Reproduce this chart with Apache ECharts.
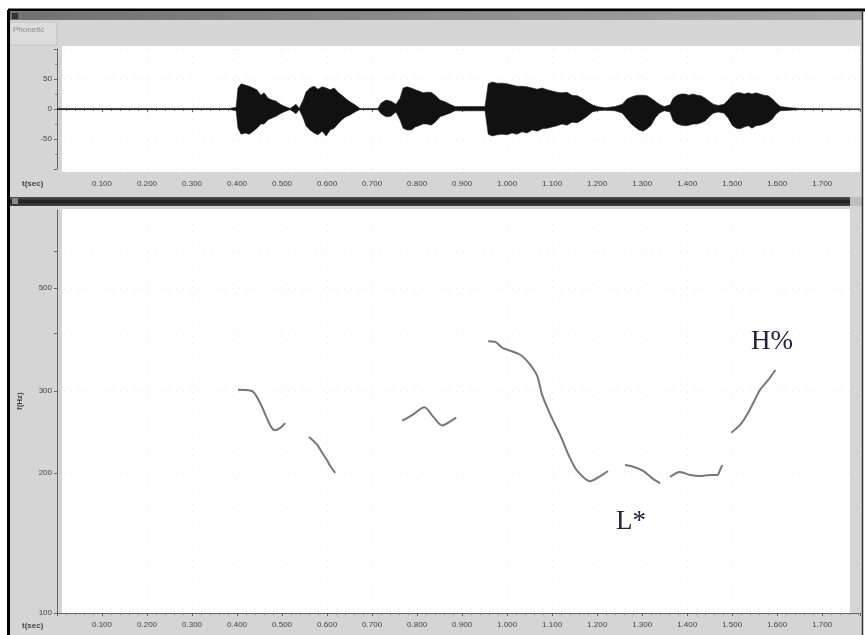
<!DOCTYPE html>
<html>
<head>
<meta charset="utf-8">
<title>F0 contour</title>
<script src="https://cdn.jsdelivr.net/npm/echarts@6/dist/echarts.min.js"></script>
<style>
  html, body { margin: 0; padding: 0; background: #fff; }
  #chart { width: 865px; height: 635px; }
</style>
</head>
<body>
<div id="chart"></div>
<script>
// waveform envelope (seconds / amplitude)
const waveTime = [0, 0.384, 0.398, 0.402, 0.409, 0.418, 0.427, 0.436, 0.444, 0.453, 0.460, 0.469, 0.478, 0.487, 0.496, 0.504,
  0.518, 0.531, 0.538, 0.547, 0.553, 0.562, 0.571, 0.580, 0.589, 0.598, 0.607, 0.616, 0.624, 0.633, 0.642, 0.651, 0.662,
  0.673, 0.713, 0.720, 0.731, 0.742, 0.753, 0.762, 0.769, 0.778, 0.787, 0.796, 0.804, 0.813, 0.822, 0.831, 0.840, 0.851,
  0.862, 0.873, 0.884, 0.918, 0.951, 0.958, 0.967, 0.978, 0.989, 1.000, 1.011, 1.022, 1.033, 1.044, 1.056, 1.067, 1.078,
  1.089, 1.100, 1.111, 1.122, 1.133, 1.144, 1.156, 1.167, 1.178, 1.189, 1.200, 1.218, 1.240, 1.256, 1.267, 1.276, 1.284,
  1.293, 1.302, 1.311, 1.320, 1.329, 1.338, 1.349, 1.362, 1.369, 1.378, 1.387, 1.396, 1.404, 1.413, 1.422, 1.431, 1.440,
  1.449, 1.458, 1.469, 1.482, 1.491, 1.500, 1.509, 1.518, 1.527, 1.536, 1.544, 1.553, 1.562, 1.571, 1.580, 1.589, 1.598,
  1.607, 1.629, 1.651, 1.784]
const waveHigh = [1, 1, 3, 35, 42, 40, 38, 35, 32, 23, 27, 18, 15, 13, 8, 5,
  1, 8, 1, 15, 28, 35, 38, 33, 37, 35, 32, 35, 28, 23, 17, 12, 7,
  1, 1, 10, 15, 13, 8, 18, 35, 37, 35, 32, 30, 27, 28, 28, 23, 15,
  12, 8, 4, 4, 4, 42, 45, 43, 43, 42, 40, 38, 38, 37, 35, 33, 35,
  32, 30, 28, 27, 28, 23, 22, 18, 12, 7, 4, 2, 4, 8, 17, 20, 22,
  23, 23, 22, 18, 13, 8, 4, 7, 18, 23, 25, 25, 23, 25, 23, 22, 18,
  13, 8, 6, 8, 15, 23, 27, 27, 25, 27, 25, 27, 25, 23, 22, 17, 10,
  4, 2, 1, 1]
const waveLow = [-1, -1, -3, -32, -42, -40, -42, -37, -32, -25, -25, -18, -15, -12, -8, -5,
  -1, -8, -1, -15, -28, -35, -40, -43, -37, -45, -35, -32, -25, -18, -13, -10, -5,
  -1, -1, -8, -13, -12, -5, -18, -32, -35, -35, -30, -28, -25, -25, -27, -22, -13,
  -10, -7, -3, -3, -3, -42, -45, -43, -42, -43, -40, -42, -38, -40, -35, -37, -33,
  -32, -30, -28, -25, -27, -22, -23, -18, -12, -5, -3, -2, -3, -7, -17, -25, -30,
  -35, -37, -33, -27, -15, -7, -3, -5, -20, -25, -27, -28, -27, -25, -25, -23, -20,
  -13, -7, -5, -7, -15, -27, -32, -33, -30, -28, -32, -28, -27, -25, -22, -17, -8,
  -3, -2, -1, -1]

// F0 track, null = unvoiced gap
const pitchTime = [0.402, 0.433, 0.451, 0.473, 0.484, 0.496, 0.507, null,
  0.560, 0.578, 0.589, 0.600, 0.607, 0.618, null,
  0.767, 0.791, 0.816, 0.836, 0.856, 0.873, 0.887, null,
  0.958, 0.973, 0.989, 1.029, 1.051, 1.067, 1.078, 1.096, 1.118, 1.140, 1.156, 1.184, 1.207, 1.224, null,
  1.262, 1.282, 1.302, 1.322, 1.340, null,
  1.362, 1.384, 1.407, 1.429, 1.451, 1.467, 1.473, 1.478, null,
  1.498, 1.518, 1.533, 1.547, 1.562, 1.578, 1.596]
const pitchHz = [302, 300, 283, 254, 247, 250, 256, null,
  239, 230, 221, 213, 207, 200, null,
  259, 267, 277, 264, 253, 258, 263, null,
  384, 383, 372, 359, 342, 323, 294, 267, 241, 215, 202, 192, 197, 202, null,
  208, 206, 202, 195, 190, null,
  196, 201, 198, 197, 198, 198, 203, 208, null,
  244, 254, 267, 283, 302, 315, 333]

const ampLabels = [-50, 0, 50]
const hzLabels = [100, 200, 300, 500]
const hzTicks = [100, 200, 300, 400, 500, 600]

const chart = echarts.init(document.getElementById('chart'))

const pair = (xs, ys) => xs.map((x, i) => (x === null ? ['-', '-'] : [x, ys[i]]))

const timeAxis = (gridIndex, margin) => ({
  type: 'value',
  gridIndex,
  min: 0,
  max: 1.784,
  interval: 0.1,
  axisLine: { lineStyle: { color: '#666', width: 1 } },
  axisTick: { length: 3, lineStyle: { color: '#666' } },
  minorTick: { show: true, splitNumber: 5, length: 2, lineStyle: { color: '#888' } },
  axisLabel: {
    showMinLabel: false,
    showMaxLabel: false,
    fontSize: 8,
    color: '#444',
    margin,
    fontFamily: 'Liberation Sans',
    formatter: v => v.toFixed(3)
  },
  splitLine: { show: true, lineStyle: { color: '#ececec', type: [1, 6] } }
})

const option = {
  animation: false,
  backgroundColor: '#fff',
  graphic: [
    // window frame and panels
    { type: 'rect', z: -20, shape: { x: 10, y: 12, width: 852, height: 8 },
      style: { fill: new echarts.graphic.LinearGradient(0, 0, 1, 0, [{ offset: 0, color: '#707070' }, { offset: 1, color: '#a8a8a8' }]) } },
    { type: 'rect', z: -20, shape: { x: 10, y: 20, width: 852, height: 177 }, style: { fill: '#d5d5d5' } },
    { type: 'rect', z: -20, shape: { x: 10, y: 22, width: 47, height: 23 }, style: { fill: '#dcdcdc', stroke: '#c4c4c4' } },
    { type: 'rect', z: -19, shape: { x: 62, y: 46, width: 798, height: 126 }, style: { fill: '#fff' } },
    { type: 'rect', z: -20, shape: { x: 10, y: 197, width: 840, height: 9 },
      style: { fill: new echarts.graphic.LinearGradient(0, 0, 0, 1, [{ offset: 0, color: '#555' }, { offset: 0.5, color: '#1e1e1e' }, { offset: 1, color: '#444' }]) } },
    { type: 'rect', z: -20, shape: { x: 850, y: 197, width: 12, height: 9 }, style: { fill: '#bdbdbd' } },
    { type: 'rect', z: -20, shape: { x: 10, y: 206, width: 852, height: 429 }, style: { fill: '#d5d5d5' } },
    { type: 'rect', z: -19, shape: { x: 62, y: 209, width: 788, height: 404 }, style: { fill: '#fff' } },
    { type: 'rect', z: -20, shape: { x: 12, y: 13, width: 6, height: 6 }, style: { fill: '#333' } },
    { type: 'rect', z: -20, shape: { x: 12, y: 198, width: 6, height: 6 }, style: { fill: '#888' } },
    { type: 'line', z: 50, shape: { x1: 8, y1: 10, x2: 865, y2: 10 }, style: { stroke: '#000', lineWidth: 3 } },
    { type: 'line', z: 50, shape: { x1: 8.5, y1: 10, x2: 8.5, y2: 635 }, style: { stroke: '#000', lineWidth: 3 } },
    { type: 'line', z: 50, shape: { x1: 862.5, y1: 10, x2: 862.5, y2: 635 }, style: { stroke: '#333', lineWidth: 1.5 } },
    // texts
    { type: 'text', z: 50, left: 13, top: 26, style: { text: 'Phonetic', fontSize: 8, fill: '#8a8a8a', fontFamily: 'Liberation Sans' } },
    { type: 'text', z: 50, left: 22, top: 180, style: { text: 't(sec)', fontSize: 8, fontWeight: 'bold', fill: '#444', fontFamily: 'Liberation Sans' } },
    { type: 'text', z: 50, left: 22, top: 622, style: { text: 't(sec)', fontSize: 8, fontWeight: 'bold', fill: '#444', fontFamily: 'Liberation Sans' } },
    { type: 'text', z: 50, x: 16, y: 410, rotation: Math.PI / 2, style: { text: 'f(Hz)', fontSize: 8, fontWeight: 'bold', fill: '#444', fontFamily: 'Liberation Sans' } },
    { type: 'text', z: 50, left: 751, top: 328, style: { text: 'H%', fontSize: 27, fill: '#22223a', fontFamily: 'Liberation Serif' } },
    { type: 'text', z: 50, left: 616, top: 508, style: { text: 'L*', fontSize: 27, fill: '#22223a', fontFamily: 'Liberation Serif' } }
  ],
  grid: [
    { left: 57, top: 49, width: 803, height: 120 },
    { left: 57, top: 210, width: 803, height: 403 }
  ],
  xAxis: [timeAxis(0, 11), timeAxis(1, 8)],
  yAxis: [
    {
      type: 'value',
      gridIndex: 0,
      min: -100,
      max: 100,
      interval: 50,
      axisLine: { show: true, lineStyle: { color: '#666' } },
      axisTick: { show: true, length: 3, lineStyle: { color: '#666' } },
      minorTick: { show: true, splitNumber: 2, length: 2, lineStyle: { color: '#888' } },
      axisLabel: {
        fontSize: 8, color: '#444', margin: 5, fontFamily: 'Liberation Sans',
        customValues: ampLabels
      },
      splitLine: { show: true, lineStyle: { color: '#ececec', type: [1, 6] } }
    },
    {
      type: 'log',
      logBase: 10,
      gridIndex: 1,
      min: 100,
      max: 735,
      axisLine: { show: true, lineStyle: { color: '#666' } },
      axisTick: { show: true, length: 3, lineStyle: { color: '#666' }, customValues: hzTicks },
      axisLabel: {
        fontSize: 8, color: '#444', margin: 5, fontFamily: 'Liberation Sans',
        customValues: hzLabels
      },
      splitLine: { show: true, lineStyle: { color: '#ececec', type: [1, 6] } }
    }
  ],
  series: [
    {
      name: 'waveHigh',
      type: 'line',
      xAxisIndex: 0,
      yAxisIndex: 0,
      data: pair(waveTime, waveHigh),
      showSymbol: false,
      lineStyle: { color: '#222', width: 0.6 },
      areaStyle: { color: '#111', opacity: 1, origin: 0 }
    },
    {
      name: 'waveLow',
      type: 'line',
      xAxisIndex: 0,
      yAxisIndex: 0,
      data: pair(waveTime, waveLow),
      showSymbol: false,
      lineStyle: { color: '#222', width: 0.6 },
      areaStyle: { color: '#111', opacity: 1, origin: 0 }
    },
    {
      name: 'F0',
      type: 'line',
      xAxisIndex: 1,
      yAxisIndex: 1,
      data: pair(pitchTime, pitchHz),
      showSymbol: false,
      connectNulls: false,
      smooth: 0.3,
      lineStyle: { color: '#777', width: 2 }
    }
  ]
}

chart.setOption(option)
</script>
</body>
</html>
